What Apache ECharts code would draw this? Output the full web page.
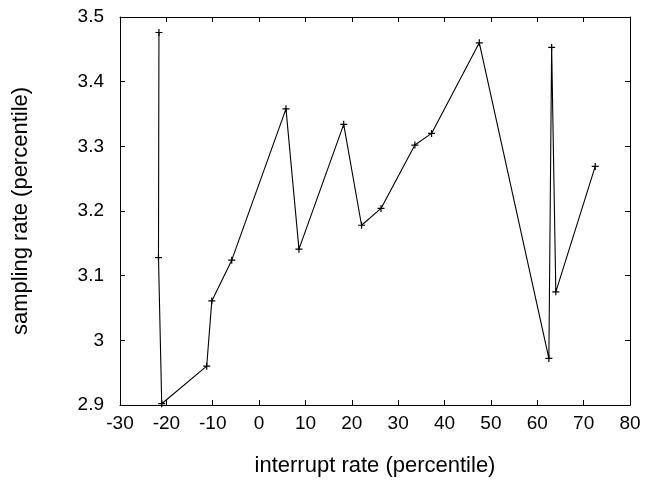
<!DOCTYPE html>
<html><head><meta charset="utf-8">
<script src="https://cdn.jsdelivr.net/npm/echarts@6/dist/echarts.min.js"></script>
<style>html,body{margin:0;padding:0;background:#fff}#c{width:649px;height:484px}</style>
</head><body><div id="c"></div>
<script>
// interrupt rate (percentile), in plotting order
const interruptRate = [-21.6, -21.7, -21.0, -11.3, -10.2, -5.9, 5.8, 8.6, 18.25, 22.1, 26.3, 33.6, 37.2, 47.5, 62.5, 63.1, 64.0, 72.5];
// sampling rate (percentile), in plotting order
const samplingRate = [3.476, 3.128, 2.902, 2.960, 3.061, 3.124, 3.358, 3.141, 3.334, 3.178, 3.204, 3.302, 3.320, 3.460, 2.972, 3.453, 3.075, 3.269];
const xTickLabels = ['-30','-20','-10','0','10','20','30','40','50','60','70','80'];
const yTickLabels = ['2.9','3','3.1','3.2','3.3','3.4','3.5'];
const xTitle = 'interrupt rate (percentile)';
const yTitle = 'sampling rate (percentile)';

const xMin = Number(xTickLabels[0]), xMax = Number(xTickLabels[xTickLabels.length-1]);
const xStep = Number(xTickLabels[1]) - xMin;
const yMin = Number(yTickLabels[0]), yMax = Number(yTickLabels[yTickLabels.length-1]);
const yStep = 0.1;

const points = interruptRate.map((x, i) => [x, samplingRate[i]]);
const font = 'Liberation Sans';
const axisCommon = () => ({
  axisLine: {show: true, onZero: false, lineStyle: {color: '#000', width: 1}},
  axisTick: {show: true, inside: true, length: 5, lineStyle: {color: '#000', width: 1}},
  splitLine: {show: false}
});
const chart = echarts.init(document.getElementById('c'), null, {renderer: 'canvas'});
chart.setOption({
  animation: false,
  backgroundColor: '#fff',
  grid: {left: 120, right: 19, top: 17, bottom: 79, containLabel: false},
  xAxis: [
    Object.assign({type: 'value', min: xMin, max: xMax, interval: xStep, position: 'bottom',
      name: xTitle, nameLocation: 'middle', nameGap: 50,
      nameTextStyle: {fontFamily: font, fontSize: 22, color: '#000'},
      axisLabel: {fontFamily: font, fontSize: 19, color: '#000', margin: 9,
        formatter: v => xTickLabels[Math.round((v - xMin) / xStep)]}}, axisCommon()),
    Object.assign({type: 'value', min: xMin, max: xMax, interval: xStep, position: 'top',
      axisLabel: {show: false}}, axisCommon())
  ],
  yAxis: [
    Object.assign({type: 'value', min: yMin, max: yMax, interval: yStep, position: 'left',
      name: yTitle, nameLocation: 'middle', nameGap: 88,
      nameTextStyle: {fontFamily: font, fontSize: 22, color: '#000'},
      axisLabel: {fontFamily: font, fontSize: 19, color: '#000', margin: 16,
        formatter: v => yTickLabels[Math.round((v - yMin) / yStep)]}}, axisCommon()),
    Object.assign({type: 'value', min: yMin, max: yMax, interval: yStep, position: 'right',
      axisLabel: {show: false}}, axisCommon())
  ],
  series: [{
    type: 'line',
    data: points,
    xAxisIndex: 0, yAxisIndex: 0,
    symbol: 'path://M0,5L10,5M5,0L5,10',
    symbolSize: 7,
    showAllSymbol: true,
    lineStyle: {color: '#000', width: 1.1},
    itemStyle: {color: '#000', borderColor: '#000', borderWidth: 1.2},
    emphasis: {disabled: true}
  }]
});
</script></body></html>
